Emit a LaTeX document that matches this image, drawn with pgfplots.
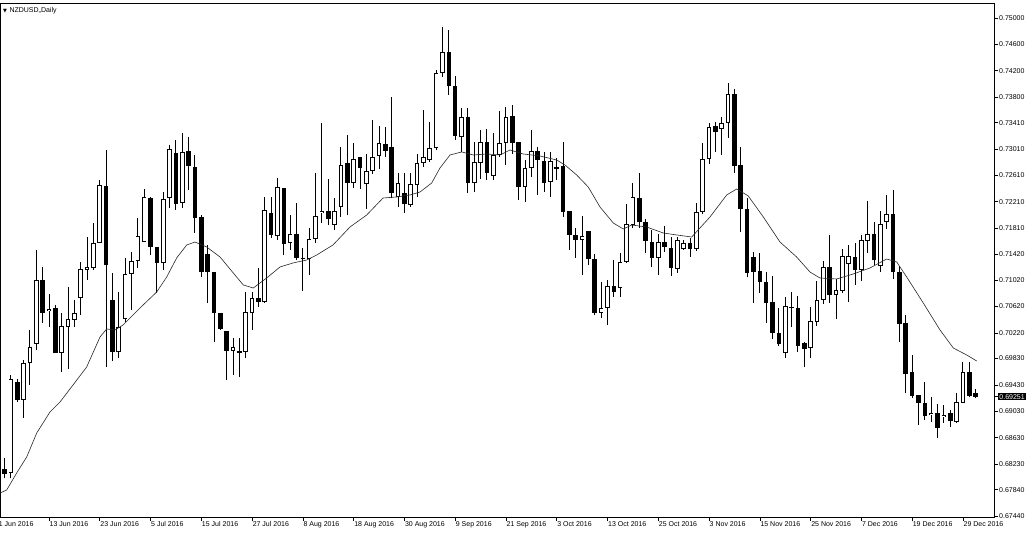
\documentclass[border=0pt]{standalone}
\usepackage{fontspec}
\setmainfont{Liberation Sans}
\newfontfamily\symfont{DejaVu Sans}
\usepackage{pgfplots}
\usepackage{pgfplotstable}
\pgfplotsset{compat=1.18}

% daily candles, NZDUSD, bar index 0 = 1 Jun 2016
\pgfplotstableread{
i o h l c
0 0.67759 0.68138 0.67607 0.68062
1 0.68154 0.68321 0.68017 0.68078
2 0.68093 0.69580 0.68017 0.69520
3 0.69474 0.69520 0.69171 0.69201
4 0.69201 0.69808 0.68928 0.69763
5 0.69763 0.70264 0.69429 0.70006
6 0.70051 0.71478 0.69960 0.71023
7 0.71023 0.71220 0.70370 0.70522
8 0.70552 0.70810 0.70309 0.70582
9 0.70598 0.70643 0.69914 0.69914
10 0.69914 0.70522 0.69626 0.70324
11 0.70309 0.70916 0.69672 0.70431
12 0.70415 0.70719 0.70309 0.70522
13 0.70749 0.71296 0.70491 0.71190
14 0.71174 0.71675 0.71023 0.71220
15 0.71205 0.71888 0.71174 0.71584
16 0.71584 0.72541 0.71584 0.72465
17 0.72450 0.72996 0.69702 0.71250
18 0.70719 0.71129 0.69793 0.69930
19 0.69930 0.70840 0.69839 0.70309
20 0.70431 0.71357 0.70385 0.71114
21 0.71114 0.71448 0.70567 0.71311
22 0.71311 0.71964 0.71205 0.71691
23 0.71599 0.72404 0.71599 0.72283
24 0.72267 0.72283 0.71402 0.71524
25 0.71524 0.71524 0.70825 0.71281
26 0.71281 0.72358 0.71174 0.72252
27 0.72267 0.73072 0.72116 0.73011
28 0.72950 0.73148 0.72085 0.72176
29 0.72191 0.73254 0.72116 0.72966
30 0.72981 0.73193 0.72389 0.72753
31 0.72738 0.72920 0.71736 0.71964
32 0.71979 0.72009 0.71068 0.71144
33 0.71417 0.71554 0.70673 0.71144
34 0.71144 0.71144 0.70081 0.70522
35 0.70522 0.70522 0.70264 0.70279
36 0.70248 0.70248 0.69505 0.69945
37 0.69945 0.70142 0.69580 0.70006
38 0.69945 0.70142 0.69550 0.69914
39 0.69930 0.70840 0.69839 0.70537
40 0.70522 0.70840 0.70264 0.70749
41 0.70749 0.71205 0.70613 0.70689
42 0.70689 0.72283 0.70673 0.72085
43 0.72040 0.72283 0.71660 0.71706
44 0.71691 0.72571 0.71630 0.72434
45 0.72419 0.72419 0.71402 0.71569
46 0.71584 0.72009 0.71478 0.71721
47 0.71721 0.72191 0.71326 0.71357
48 0.71357 0.71508 0.70856 0.71341
49 0.71341 0.71812 0.71098 0.71645
50 0.71645 0.72647 0.71584 0.71994
51 0.72040 0.73406 0.71888 0.72070
52 0.72070 0.72556 0.71857 0.71949
53 0.71857 0.72267 0.71782 0.72070
54 0.72131 0.73042 0.71979 0.72768
55 0.72799 0.73224 0.72009 0.72495
56 0.72495 0.73102 0.72419 0.72859
57 0.72890 0.72890 0.72404 0.72723
58 0.72480 0.72935 0.72100 0.72677
59 0.72677 0.73451 0.72632 0.72890
60 0.72905 0.73360 0.72708 0.73102
61 0.73087 0.73345 0.72890 0.72981
62 0.73042 0.73801 0.72267 0.72343
63 0.72283 0.72647 0.72131 0.72495
64 0.72343 0.72647 0.72040 0.72176
65 0.72161 0.72647 0.72131 0.72480
66 0.72465 0.72935 0.72283 0.72799
67 0.72799 0.73603 0.72738 0.72890
68 0.72844 0.73421 0.72814 0.73026
69 0.73026 0.74210 0.72996 0.74165
70 0.74165 0.74863 0.74104 0.74484
71 0.74484 0.74818 0.73831 0.73968
72 0.73968 0.74119 0.73148 0.73209
73 0.73193 0.73634 0.72966 0.73497
74 0.73497 0.73634 0.72343 0.72495
75 0.72495 0.73117 0.72358 0.72814
76 0.72799 0.73300 0.72556 0.73117
77 0.73117 0.73315 0.72541 0.72647
78 0.72601 0.73254 0.72541 0.72920
79 0.72920 0.73588 0.72890 0.73102
80 0.73102 0.73649 0.72768 0.73497
81 0.73512 0.73679 0.72935 0.73102
82 0.73117 0.73117 0.72237 0.72434
83 0.72434 0.72844 0.72207 0.72723
84 0.72723 0.73300 0.72586 0.72981
85 0.72981 0.73042 0.72313 0.72844
86 0.72829 0.72966 0.72358 0.72495
87 0.72510 0.72966 0.72283 0.72829
88 0.72738 0.72875 0.72541 0.72708
89 0.72753 0.73117 0.71979 0.72055
90 0.72070 0.72070 0.71478 0.71706
91 0.71706 0.71812 0.71357 0.71630
92 0.71630 0.71994 0.71098 0.71691
93 0.71766 0.71766 0.71250 0.71341
94 0.71341 0.71417 0.70491 0.70522
95 0.70522 0.70992 0.70446 0.70598
96 0.70598 0.71023 0.70339 0.70932
97 0.70932 0.71326 0.70765 0.70840
98 0.70901 0.71432 0.70765 0.71296
99 0.71296 0.72176 0.71281 0.71873
100 0.71857 0.72495 0.71812 0.72283
101 0.72267 0.72647 0.71812 0.71903
102 0.71903 0.71949 0.71432 0.71615
103 0.71599 0.71782 0.71220 0.71357
104 0.71357 0.71721 0.71098 0.71599
105 0.71599 0.71842 0.71448 0.71524
106 0.71508 0.71675 0.71083 0.71205
107 0.71190 0.71675 0.71129 0.71630
108 0.71493 0.71630 0.71478 0.71584
109 0.71584 0.71660 0.71372 0.71493
110 0.71493 0.72191 0.71463 0.72055
111 0.72055 0.73102 0.72024 0.72859
112 0.72859 0.73406 0.72783 0.73345
113 0.73360 0.73421 0.72966 0.73269
114 0.73315 0.73497 0.72920 0.73406
115 0.73406 0.74013 0.73178 0.73846
116 0.73846 0.73922 0.72647 0.72753
117 0.72768 0.73042 0.71751 0.72100
118 0.72100 0.72267 0.71068 0.71129
119 0.71372 0.71448 0.70673 0.71144
120 0.71159 0.71432 0.70825 0.70992
121 0.70992 0.71144 0.70370 0.70673
122 0.70689 0.71083 0.70127 0.70218
123 0.70218 0.70598 0.70021 0.70051
124 0.69914 0.70765 0.69839 0.70628
125 0.70613 0.70840 0.70309 0.70598
126 0.70598 0.70780 0.69930 0.70021
127 0.70066 0.70081 0.69702 0.69975
128 0.69990 0.70613 0.69839 0.70400
129 0.70385 0.71007 0.70324 0.70719
130 0.70719 0.71311 0.70658 0.71220
131 0.71220 0.71706 0.70673 0.70795
132 0.70795 0.71038 0.70431 0.70871
133 0.70856 0.71493 0.70825 0.71387
134 0.71265 0.71554 0.70689 0.71387
135 0.71372 0.71584 0.70947 0.71174
136 0.71174 0.71706 0.71007 0.71630
137 0.71615 0.72222 0.71432 0.71721
138 0.71721 0.71903 0.71250 0.71326
139 0.71235 0.72070 0.71144 0.71873
140 0.71903 0.72313 0.71797 0.72024
141 0.72024 0.72389 0.71038 0.71144
142 0.71144 0.71235 0.70081 0.70355
143 0.70370 0.70491 0.69307 0.69596
144 0.69626 0.69884 0.69231 0.69262
145 0.69277 0.69277 0.68821 0.69155
146 0.69155 0.69474 0.68897 0.68958
147 0.68973 0.69247 0.68867 0.69004
148 0.69004 0.69140 0.68624 0.68776
149 0.68943 0.69125 0.68852 0.68973
150 0.69004 0.69049 0.68791 0.68882
151 0.68867 0.69307 0.68852 0.69171
152 0.69155 0.69778 0.69155 0.69626
153 0.69626 0.69778 0.69247 0.69262
154 0.69307 0.69368 0.69231 0.69251
}\candles

% moving average line
\pgfplotstableread{
i v
0.28 0.67789
1.34 0.67835
2.91 0.68093
4.49 0.68336
6.07 0.68700
8.16 0.69019
9.74 0.69171
11.79 0.69429
13.94 0.69702
16.04 0.70157
17.09 0.70279
18.40 0.70264
19.66 0.70339
22.34 0.70598
24.97 0.70840
26.55 0.71068
28.12 0.71357
29.70 0.71554
31.01 0.71599
32.85 0.71524
34.95 0.71372
37.04 0.71129
38.62 0.70947
40.19 0.70901
42.30 0.71053
44.40 0.71220
46.45 0.71281
48.61 0.71326
50.18 0.71402
52.75 0.71554
55.43 0.71827
58.06 0.72009
60.63 0.72267
62.79 0.72283
64.88 0.72313
66.46 0.72358
68.30 0.72495
69.61 0.72723
71.19 0.72920
73.03 0.72966
74.85 0.72920
76.97 0.72935
79.06 0.72920
80.64 0.72996
82.73 0.72935
85.36 0.72905
88.00 0.72844
89.30 0.72768
91.15 0.72616
92.97 0.72434
94.82 0.72131
96.91 0.71888
98.49 0.71797
99.81 0.71857
102.17 0.71827
104.79 0.71736
106.90 0.71706
109.27 0.71675
110.57 0.71812
112.15 0.71979
114.78 0.72313
116.36 0.72404
118.18 0.72298
120.55 0.71979
123.18 0.71599
125.80 0.71372
127.90 0.71144
129.48 0.71053
132.11 0.71038
134.73 0.71114
137.36 0.71205
139.99 0.71341
141.57 0.71296
143.14 0.71068
145.76 0.70673
148.39 0.70264
150.49 0.69990
152.60 0.69884
154.17 0.69793
}\ma

\begin{document}
\begin{tikzpicture}
\begin{axis}[
  scale only axis,
  width=994pt, height=514pt,
  xmin=0.284, xmax=156.9,
  ymin=0.67425, ymax=0.75227,
  axis line style={black, line width=0.8pt},
  tick align=outside,
  xtick pos=bottom, ytick pos=right,
  major tick length=4pt,
  tick style={black, line width=0.6pt},
  tick label style={font=\fontsize{7}{8}\selectfont},
  xtick={8,16,...,152},
  xticklabels={13 Jun 2016, 23 Jun 2016, 5 Jul 2016, 15 Jul 2016,
    27 Jul 2016, 8 Aug 2016, 18 Aug 2016, 30 Aug 2016, 9 Sep 2016,
    21 Sep 2016, 3 Oct 2016, 13 Oct 2016, 25 Oct 2016, 3 Nov 2016,
    15 Nov 2016, 25 Nov 2016, 7 Dec 2016, 19 Dec 2016, 29 Dec 2016},
  xticklabel style={anchor=north west, inner sep=0pt, xshift=0.5pt},
  ytick={0.75000,0.74600,0.74200,0.73800,0.73410,0.73010,0.72610,0.72210,
    0.71810,0.71420,0.71020,0.70620,0.70220,0.69830,0.69430,0.69030,
    0.68630,0.68230,0.67840,0.67440},
  yticklabels={0.75000,0.74600,0.74200,0.73800,0.73410,0.73010,0.72610,0.72210,
    0.71810,0.71420,0.71020,0.70620,0.70220,0.69830,0.69430,0.69030,
    0.68630,0.68230,0.67840,0.67440},
  yticklabel style={anchor=west, inner sep=1pt},
  extra y ticks={0.69251},
  extra y tick labels={0.69251},
  extra y tick style={yticklabel style={fill=black, text=white, inner sep=1.2pt}},
]
% wicks
\addplot[draw=none, mark=none,
  error bars/.cd, y dir=plus, y explicit, error mark=none,
  error bar style={draw=black, line width=0.9pt}]
  table[x=i, y=l, y error expr=\thisrow{h}-\thisrow{l}] {\candles};
% bodies (black outline / fill)
\addplot[draw=none, mark=none,
  error bars/.cd, y dir=plus, y explicit, error mark=none,
  error bar style={draw=black, line width=4.6pt}]
  table[x=i, y expr={min(\thisrow{o},\thisrow{c})},
    y error expr={max(abs(\thisrow{c}-\thisrow{o}),0.00015)}] {\candles};
% white inside of rising candles
\addplot[draw=none, mark=none,
  error bars/.cd, y dir=plus, y explicit, error mark=none,
  error bar style={draw=white, line width=2.8pt}]
  table[x=i, y expr={\thisrow{o}+0.00014},
    y error expr={max(\thisrow{c}-\thisrow{o}-0.00028,0)}] {\candles};
% moving average
\addplot[black!85, line width=0.6pt] table[x=i, y=v] {\ma};

\node[anchor=west, inner sep=0pt, font=\fontsize{7}{8}\selectfont]
  at (axis description cs:0.003,0.986)
  {{\symfont\fontsize{5}{6}\selectfont ▼}\hspace{2.5pt}NZDUSD,,Daily};
\end{axis}
% first date label, its tick falls just left of the chart
\node[anchor=north west, inner sep=0pt, font=\fontsize{7}{8}\selectfont]
  at ([yshift=-4pt, xshift=-1.3pt]current axis.south west) {1 Jun 2016};
\pgfresetboundingbox
\path ([yshift=-18pt]current axis.south west) rectangle ([xshift=36pt,yshift=3pt]current axis.north east);
\end{tikzpicture}
\end{document}
